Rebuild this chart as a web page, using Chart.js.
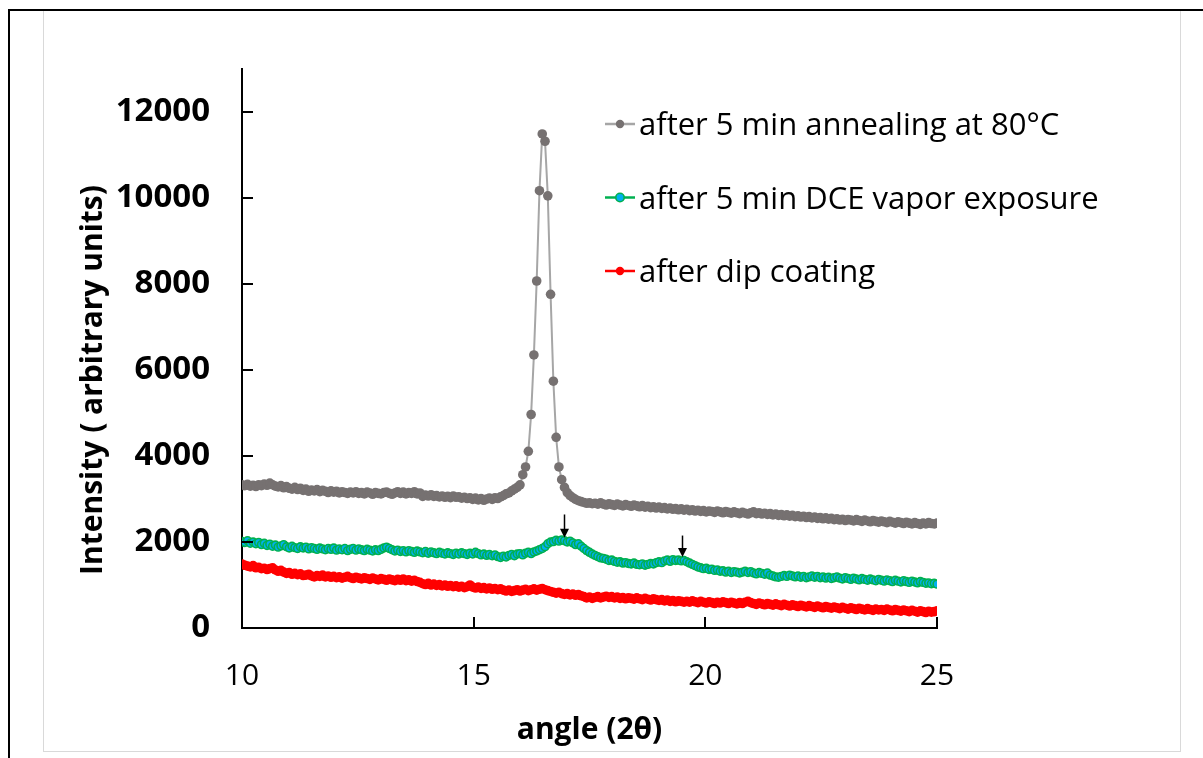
<!DOCTYPE html>
<html>
<head>
<meta charset="utf-8">
<script src="https://cdn.jsdelivr.net/npm/chart.js@4.4.1/dist/chart.umd.min.js"></script>
<style>
html,body{margin:0;padding:0;background:#fff;}
#wrap{position:relative;width:1203px;height:758px;overflow:hidden;background:#fff;}
.frame-black{position:absolute;left:8px;top:9px;width:1300px;height:800px;border-left:2px solid #000;border-top:2px solid #000;}
.frame-gray{position:absolute;left:43px;top:11px;width:1136px;height:740px;border-left:1.5px solid #d9d9d9;border-right:1.5px solid #d9d9d9;border-bottom:1.5px solid #d9d9d9;}
#c{position:absolute;left:0;top:0;}
</style>
</head>
<body>
<div id="wrap">
  <div class="frame-black"></div>
  <div class="frame-gray"></div>
  <canvas id="c" width="1203" height="758"></canvas>
</div>
<script>
// ---- data (angles: 10.00 .. 25.00 step 0.06) ----
const ANGLE_START = 10;
const ANGLE_STEP = 0.06;
const SERIES_LABELS = ["after 5 min annealing at 80°C", "after 5 min DCE vapor exposure", "after dip coating"];
const X_TITLE = "angle (2θ)";
const Y_TITLE = "Intensity ( arbitrary units)";

const annealed = [
  3330,3310,3340,3300,3320,3290,3330,3310,3350,3320,
  3370,3330,3300,3280,3310,3260,3290,3250,3230,3270,
  3220,3250,3200,3230,3180,3210,3190,3220,3170,3200,
  3180,3150,3190,3160,3180,3140,3170,3150,3130,3160,
  3140,3170,3130,3150,3120,3160,3140,3110,3150,3130,
  3120,3150,3160,3130,3110,3140,3170,3130,3160,3120,
  3150,3130,3170,3120,3140,3060,3090,3070,3100,3060,
  3080,3050,3070,3040,3060,3030,3070,3040,3050,3020,
  3040,3010,3030,2990,3020,2980,3010,2970,3000,3020,
  2990,3030,3010,3050,3080,3120,3140,3190,3230,3270,
  3330,3565,3745,4110,4965,6350,8070,10170,11490,11320,
  10050,7760,5740,4435,3745,3450,3270,3150,3080,3030,
  2990,2960,2940,2920,2900,2910,2890,2900,2880,2910,
  2880,2860,2890,2870,2850,2880,2860,2840,2870,2850,
  2830,2860,2840,2820,2850,2810,2830,2800,2820,2790,
  2810,2780,2800,2770,2790,2760,2780,2750,2770,2740,
  2760,2730,2750,2720,2740,2710,2730,2700,2720,2710,
  2690,2720,2700,2680,2710,2690,2670,2700,2680,2660,
  2690,2670,2650,2680,2700,2660,2680,2650,2670,2640,
  2660,2630,2650,2620,2640,2610,2630,2600,2620,2590,
  2610,2580,2600,2570,2590,2560,2580,2550,2570,2540,
  2560,2530,2550,2520,2540,2510,2530,2500,2520,2510,
  2490,2520,2500,2480,2510,2490,2470,2500,2480,2460,
  2490,2470,2450,2480,2460,2440,2470,2450,2430,2460,
  2440,2420,2450,2430,2410,2440,2420,2450,2430,2420,
  2440
];

const dceVapor = [
  2010,1990,2030,1970,2000,1960,1990,1940,1970,1920,
  1950,1900,1930,1880,1910,1940,1890,1860,1900,1870,
  1850,1890,1860,1880,1840,1870,1850,1830,1860,1840,
  1820,1850,1830,1860,1810,1840,1820,1850,1800,1830,
  1850,1810,1840,1820,1800,1830,1810,1790,1820,1800,
  1830,1860,1880,1850,1820,1790,1810,1780,1800,1770,
  1800,1780,1760,1790,1770,1750,1780,1740,1770,1750,
  1730,1760,1740,1720,1750,1730,1710,1740,1720,1750,
  1730,1710,1740,1720,1760,1730,1700,1720,1690,1710,
  1680,1700,1660,1640,1670,1650,1690,1710,1680,1720,
  1730,1700,1740,1760,1730,1770,1790,1820,1850,1890,
  1960,2000,2010,2040,2020,2050,2030,2000,2020,1980,
  1940,1960,1900,1850,1800,1760,1720,1690,1660,1630,
  1620,1600,1570,1580,1550,1530,1540,1510,1520,1500,
  1490,1510,1480,1470,1490,1460,1480,1500,1490,1520,
  1540,1520,1560,1580,1550,1590,1570,1580,1560,1570,
  1540,1510,1480,1450,1420,1400,1380,1390,1360,1370,
  1340,1350,1320,1330,1300,1320,1290,1310,1300,1280,
  1300,1320,1290,1310,1280,1260,1290,1270,1250,1280,
  1230,1210,1190,1180,1200,1220,1200,1230,1210,1190,
  1210,1180,1200,1170,1190,1210,1180,1200,1170,1190,
  1160,1180,1150,1170,1190,1160,1140,1170,1150,1130,
  1160,1140,1120,1150,1130,1110,1140,1120,1100,1130,
  1110,1090,1120,1100,1080,1110,1090,1070,1100,1080,
  1060,1090,1070,1050,1080,1060,1040,1050,1030,1040,
  1020
];

const dipCoated = [
  1490,1460,1440,1420,1450,1400,1410,1380,1390,1360,
  1380,1400,1350,1320,1340,1300,1270,1290,1250,1270,
  1240,1260,1220,1230,1250,1210,1190,1220,1200,1230,
  1190,1210,1180,1200,1170,1190,1160,1180,1200,1170,
  1150,1180,1160,1140,1170,1150,1130,1160,1140,1120,
  1150,1130,1110,1140,1120,1100,1130,1110,1140,1100,
  1120,1090,1110,1080,1060,1030,1010,1040,1000,1020,
  990,1010,980,1000,970,990,960,980,950,970,
  940,960,1000,950,930,950,920,940,910,930,
  900,920,890,910,880,860,880,850,870,890,
  860,880,900,870,890,910,880,900,920,890,
  870,850,830,810,830,800,780,800,770,790,
  760,780,750,730,700,720,690,710,730,700,
  720,740,710,730,700,720,690,710,680,700,
  690,670,700,680,660,690,670,650,680,660,
  640,660,630,650,620,640,610,630,620,600,
  620,600,630,610,590,620,600,580,610,590,
  570,600,580,610,590,570,600,580,560,590,
  570,600,620,590,570,550,580,560,540,570,
  550,530,560,540,520,550,530,510,540,520,
  500,530,510,490,520,500,480,510,490,470,
  500,480,460,490,470,450,480,460,440,470,
  450,430,460,440,420,450,430,410,440,420,
  430,410,440,420,400,430,410,390,420,400,
  380,410,390,370,400,380,360,390,370,380,
  400
];

// annotation arrows: [angle, tailValue, tipValue]
const arrowAngles = [16.94, 19.49];
const arrowTails = [2640, 2150];
const arrowTips = [2100, 1650];

const xTicks = [10, 15, 20, 25];
const yTicks = [0, 2000, 4000, 6000, 8000, 10000, 12000];

function toPoints(arr){ return arr.map((v,i)=>({x: +(ANGLE_START + i*ANGLE_STEP).toFixed(2), y: v})); }

Chart.defaults.font.family = "'Open Sans', sans-serif";
Chart.defaults.color = '#000';

const overlay = {
  id: 'overlay',
  afterDraw(chart){
    const {ctx, scales:{x, y}} = chart;
    ctx.save();
    // inward tick marks
    ctx.strokeStyle = '#000';
    ctx.lineWidth = 2;
    y.ticks.forEach(t=>{
      const py = Math.round(y.getPixelForValue(t.value));
      ctx.beginPath(); ctx.moveTo(x.left, py); ctx.lineTo(x.left + 11, py); ctx.stroke();
    });
    x.ticks.forEach(t=>{
      const px = Math.round(x.getPixelForValue(t.value));
      ctx.beginPath(); ctx.moveTo(px, y.bottom); ctx.lineTo(px, y.bottom - 11); ctx.stroke();
    });
    // arrows
    ctx.lineWidth = 1.5;
    ctx.fillStyle = '#000';
    arrowAngles.forEach((a,i)=>{
      const px = Math.round(x.getPixelForValue(a)) + 0.5;
      const yt = y.getPixelForValue(arrowTails[i]);
      const yh = y.getPixelForValue(arrowTips[i]);
      ctx.beginPath(); ctx.moveTo(px, yt); ctx.lineTo(px, yh - 6); ctx.stroke();
      ctx.beginPath(); ctx.moveTo(px - 4.5, yh - 9); ctx.lineTo(px + 4.5, yh - 9); ctx.lineTo(px, yh); ctx.closePath(); ctx.fill();
    });
    // y-axis title
    ctx.save();
    ctx.translate(93, 380);
    ctx.rotate(-Math.PI/2);
    ctx.font = "bold 30px 'Open Sans', sans-serif";
    ctx.textAlign = 'center';
    ctx.textBaseline = 'middle';
    ctx.fillStyle = '#000';
    ctx.fillText(Y_TITLE, 0, 0);
    ctx.restore();
    // legend
    const lx = 605, ly0 = 124, lstep = 73.5;
    ctx.font = "31px 'Open Sans', sans-serif";
    ctx.textBaseline = 'alphabetic';
    ctx.textAlign = 'left';
    chart.data.datasets.forEach((ds,i)=>{
      const yy = ly0 + i*lstep;
      ctx.strokeStyle = ds.borderColor; ctx.lineWidth = 2.5;
      ctx.beginPath(); ctx.moveTo(lx, yy); ctx.lineTo(lx + 30, yy); ctx.stroke();
      ctx.beginPath(); ctx.arc(lx + 15, yy, 4.2, 0, Math.PI*2);
      ctx.fillStyle = ds.pointBackgroundColor; ctx.fill();
      if (ds.pointBorderWidth) { ctx.lineWidth = ds.pointBorderWidth; ctx.strokeStyle = ds.pointBorderColor; ctx.stroke(); }
      ctx.fillStyle = '#000';
      ctx.fillText(ds.label, lx + 34, yy + 11);
    });
    ctx.restore();
  }
};

new Chart(document.getElementById('c'), {
  type: 'line',
  data: {
    datasets: [
      { label: SERIES_LABELS[0], data: toPoints(annealed), borderColor: '#a6a6a6', borderWidth: 2,
        pointRadius: 4.8, pointBackgroundColor: '#767171', pointBorderColor: '#767171', pointBorderWidth: 0 },
      { label: SERIES_LABELS[1], data: toPoints(dceVapor), borderColor: '#00b050', borderWidth: 2,
        pointRadius: 3.9, pointBackgroundColor: '#00b0f0', pointBorderColor: '#00b050', pointBorderWidth: 1.6 },
      { label: SERIES_LABELS[2], data: toPoints(dipCoated), borderColor: '#ff0000', borderWidth: 2,
        pointRadius: 4.8, pointBackgroundColor: '#ff0000', pointBorderColor: '#ff0000', pointBorderWidth: 0 }
    ]
  },
  options: {
    responsive: false,
    devicePixelRatio: 1,
    animation: false,
    events: [],
    layout: { padding: { top: 69, right: 266, left: 0, bottom: 0 } },
    plugins: { legend: { display: false }, tooltip: { enabled: false } },
    elements: { line: { tension: 0 } },
    scales: {
      x: {
        type: 'linear', min: 10, max: 25,
        afterFit(s){ s.height = 130; },
        afterBuildTicks(s){ s.ticks = xTicks.map(v=>({value:v})); },
        ticks: { font: { size: 30 }, padding: 30, color: '#000', maxRotation: 0, callback: v => String(v) },
        grid: { display: true, drawOnChartArea: false, drawTicks: false },
        border: { display: true, color: '#000', width: 2 },
        title: { display: true, text: X_TITLE, font: { size: 30, weight: 'bold' }, padding: { bottom: 10, top: 0 }, color: '#000' }
      },
      y: {
        type: 'linear', min: 0, max: 13000,
        afterFit(s){ s.width = 242; },
        afterBuildTicks(s){ s.ticks = yTicks.map(v=>({value:v})); },
        ticks: { font: { size: 33, weight: 'bold' }, padding: 32, color: '#000', callback: v => String(v) },
        grid: { display: true, drawOnChartArea: false, drawTicks: false },
        border: { display: true, color: '#000', width: 2 },
        title: { display: false }
      }
    }
  },
  plugins: [overlay]
});
</script>
</body>
</html>
